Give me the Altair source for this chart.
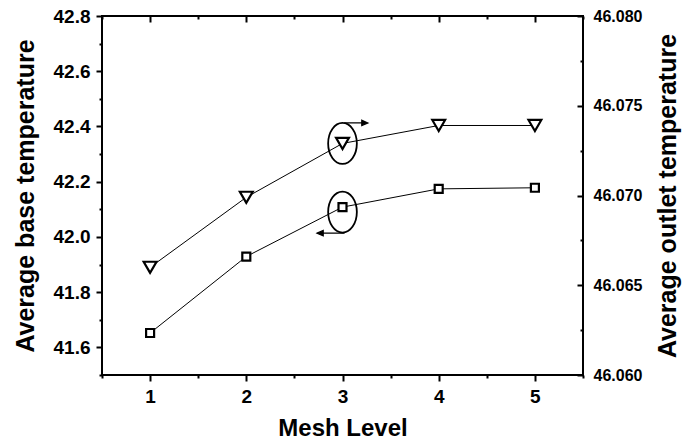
import altair as alt
import pandas as pd

# ---- data ----
mesh = [1, 2, 3, 4, 5]
base_temp = [41.652, 41.929, 42.108, 42.174, 42.178]
outlet_temp = [46.0660, 46.0699, 46.0729, 46.0739, 46.0739]

x_major = [1, 2, 3, 4, 5]
x_minor = [0.5, 1.5, 2.5, 3.5, 4.5, 5.5]
left_major = [41.6, 41.8, 42.0, 42.2, 42.4, 42.6, 42.8]
left_minor = [41.5, 41.7, 41.9, 42.1, 42.3, 42.5, 42.7]
right_major = [46.060, 46.065, 46.070, 46.075, 46.080]
right_minor = [46.0625, 46.0675, 46.0725, 46.0775]
x_dom = [0.5, 5.5]
left_dom = [41.5, 42.8]
right_dom = [46.060, 46.080]
annot_level = 3

df = pd.DataFrame({"mesh": mesh, "base": base_temp, "outlet": outlet_temp})

FONT = "Liberation Sans"
W, H = 481, 359

def xs(axis):
    return alt.X("mesh:Q", scale=alt.Scale(domain=x_dom, nice=False, zero=False), axis=axis)

def yl(axis):
    return alt.Y("base:Q", scale=alt.Scale(domain=left_dom, nice=False, zero=False), axis=axis)

def yr(axis):
    return alt.Y("outlet:Q", scale=alt.Scale(domain=right_dom, nice=False, zero=False), axis=axis)

noticks = dict(labels=False, domain=False, title=None, grid=False, tickWidth=2, tickColor="black")

base = alt.Chart(df)

# squares (left axis)
sq_line = base.mark_line(color="black", strokeWidth=1).encode(
    x=xs(alt.Axis(orient="bottom", values=x_major, format="d", tickSize=6, tickWidth=2,
                  labelFontSize=19, labelPadding=6, title="Mesh Level",
                  titleFontSize=24, titlePadding=10, domain=False, grid=False)),
    y=yl(alt.Axis(orient="left", values=left_major, format=".1f", tickSize=6, tickWidth=2,
                  labelFontSize=19, labelPadding=6, title="Average base temperature",
                  titleFontSize=25, titlePadding=15, domain=False, grid=False)),
)
sq_pts = base.mark_point(shape="square", size=64, filled=True, fill="white",
                         stroke="black", strokeWidth=2.2, opacity=1).encode(
    x=xs(alt.Axis(orient="bottom", values=x_minor, tickSize=3, **noticks)),
    y=yl(alt.Axis(orient="left", values=left_minor, tickSize=3, **noticks)),
)

# triangles (right axis)
tr_line = base.mark_line(color="black", strokeWidth=1).encode(
    x=xs(alt.Axis(orient="bottom", offset=-H, values=x_major, tickSize=6, **noticks)),
    y=yr(alt.Axis(orient="right", values=right_major, format=".3f", ticks=False, tickSize=0,
                  labelFontSize=16, labelPadding=10, title="Average outlet temperature",
                  titleFontSize=25, titleAngle=270, titleBaseline="top", titlePadding=14,
                  domain=False, grid=False)),
)
tr_pts = base.mark_point(shape="triangle-down", size=165, filled=True, fill="white",
                         stroke="black", strokeWidth=2.2, opacity=1).encode(
    x=xs(alt.Axis(orient="bottom", offset=-H, values=x_minor, tickSize=3, **noticks)),
    y=yr(alt.Axis(orient="left", offset=-W, values=right_major, tickSize=6, **noticks)),
)

ELLIPSE = ("M 0.7 0 C 0.7 0.5523 0.3866 1 0 1 C -0.3866 1 -0.7 0.5523 -0.7 0 "
           "C -0.7 -0.5523 -0.3866 -1 0 -1 C 0.3866 -1 0.7 -0.5523 0.7 0 Z")
ARROW_R = "M 0.08 -1.0 L 1.0 -1.0 M 1.24 -1.0 L 0.94 -1.13 L 0.94 -0.87 Z"
ARROW_L = "M 0.1 1.27 L -1.0 1.27 M -1.24 1.27 L -0.94 1.14 L -0.94 1.4 Z"

ann = base.transform_filter(alt.datum.mesh == annot_level)

tr_ell = ann.mark_point(shape=ELLIPSE, size=1681, filled=False, stroke="black",
                        strokeWidth=1.8, opacity=1).encode(
    x=xs(None),
    y=yr(alt.Axis(orient="left", offset=-W, values=right_minor, tickSize=3, **noticks)),
)
tr_arrow = ann.mark_point(shape=ARROW_R, size=1681, filled=True, fill="black",
                          stroke="black", strokeWidth=1.2, opacity=1).encode(
    x=xs(None), y=yr(None))
sq_ell = ann.mark_point(shape=ELLIPSE, size=1681, filled=False, stroke="black",
                        strokeWidth=1.8, opacity=1, yOffset=5).encode(
    x=xs(None), y=yl(None))
sq_arrow = ann.mark_point(shape=ARROW_L, size=1681, filled=True, fill="black",
                          stroke="black", strokeWidth=1.2, opacity=1).encode(
    x=xs(None), y=yl(None))

chart = alt.layer(
    sq_line, sq_pts, tr_line, tr_pts, tr_ell, tr_arrow, sq_ell, sq_arrow
).resolve_scale(y="independent").resolve_axis(x="independent", y="independent").properties(
    width=W, height=H,
    autosize=alt.AutoSizeParams(type="none"),
    padding={"left": 102, "top": 16, "right": 111, "bottom": 67},
    background="white",
).configure_view(stroke="black", strokeWidth=2).configure_axis(
    labelFont=FONT, titleFont=FONT, labelFontWeight="bold", titleFontWeight="bold",
    labelColor="black", titleColor="black", tickColor="black",
)

chart.save("out.html", embed_options={"renderer": "svg", "actions": False})
